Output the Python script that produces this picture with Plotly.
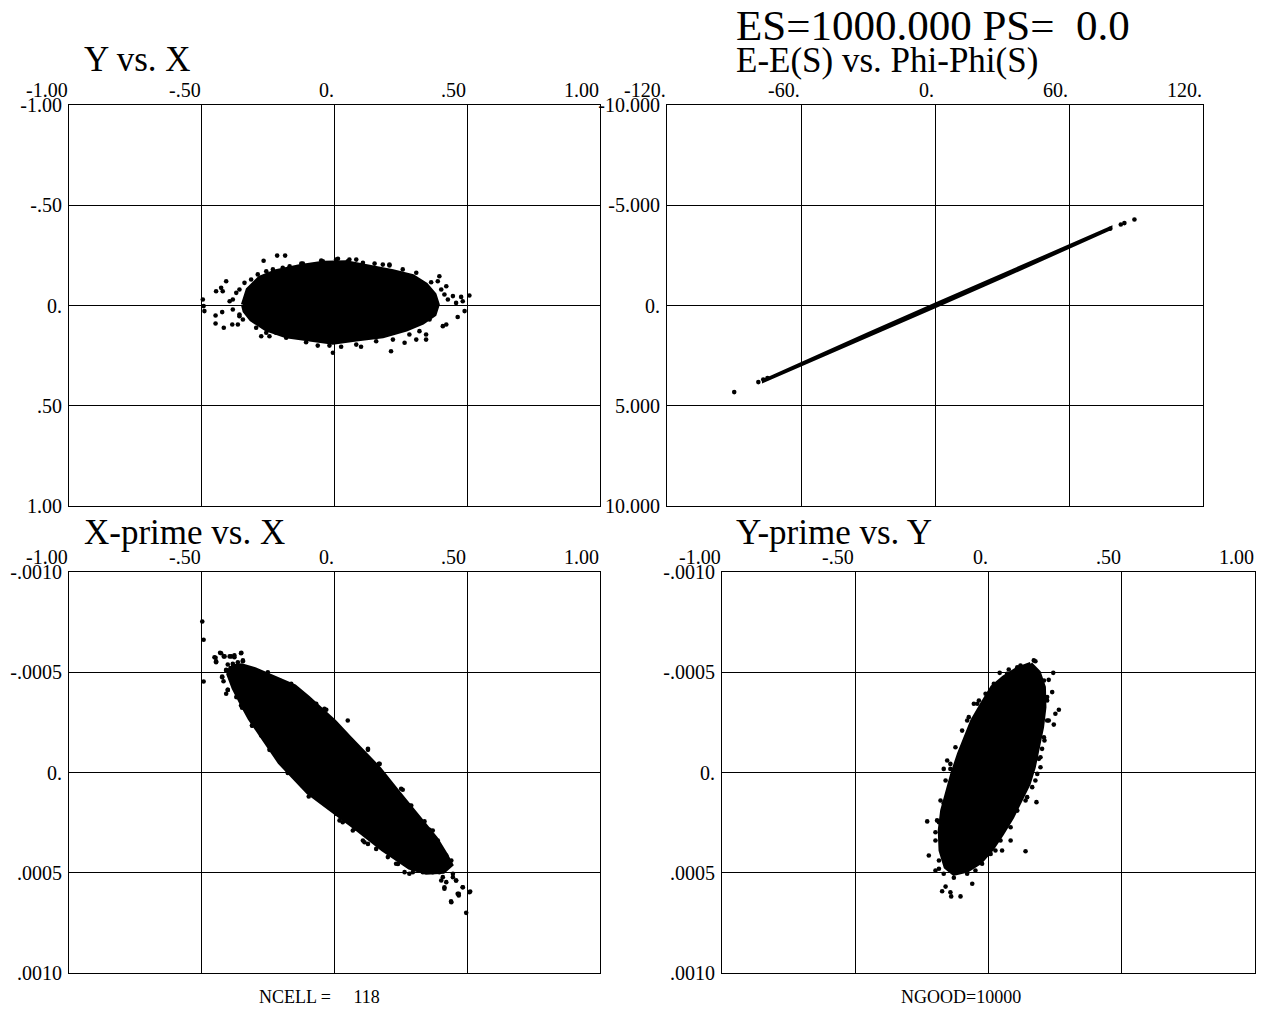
import numpy as np
import plotly.graph_objects as go

W, H = 1278, 1010
FONT = "Liberation Serif"

# ---------------- tick definitions ----------------
XY_TICKS = [-1.0, -0.5, 0.0, 0.5, 1.0]
XY_LABELS = ["-1.00", "-.50", "0.", ".50", "1.00"]
PHI_TICKS = [-120, -60, 0, 60, 120]
PHI_LABELS = ["-120.", "-60.", "0.", "60.", "120."]
E_TICKS = [-10, -5, 0, 5, 10]
E_LABELS = ["-10.000", "-5.000", "0.", "5.000", "10.000"]
XP_TICKS = [-0.001, -0.0005, 0.0, 0.0005, 0.001]
XP_LABELS = ["-.0010", "-.0005", "0.", ".0005", ".0010"]

# ---------------- panel 1: Y vs X ----------------
p1_core_x = [-0.345, -0.327, -0.282, -0.220, -0.132, -0.044, 0.044, 0.132, 0.220, 0.295, 0.345, 0.377,
             0.389, 0.377, 0.332, 0.270, 0.182, 0.082, -0.006, -0.094, -0.182, -0.257, -0.314, -0.339]
p1_core_y = [-0.005, -0.080, -0.138, -0.171, -0.196, -0.213, -0.216, -0.196, -0.171, -0.146, -0.105, -0.055,
             -0.005, 0.045, 0.086, 0.120, 0.153, 0.170, 0.186, 0.170, 0.153, 0.120, 0.070, 0.028]
p1_pts_x = [-0.216, -0.186, -0.267, -0.496, -0.493, -0.490, -0.446, -0.427, -0.408, -0.421, -0.448, -0.448,
            -0.417, -0.423, -0.385, -0.364, -0.276, -0.245, -0.220, -0.063, -0.006, 0.025, 0.100, 0.213,
            0.264, 0.308, 0.345, 0.345, 0.408, 0.421, 0.464, 0.490, 0.508, 0.477, 0.446, 0.427, 0.421,
            0.389, 0.395, 0.458, 0.483, 0.182, 0.207, 0.082, 0.056, 0.006, -0.044, -0.119, -0.395, -0.383,
            -0.358,
            -0.125, -0.050, 0.013, 0.050, 0.107, 0.151, 0.207, 0.257, 0.308, 0.364, 0.402, 0.414,
            0.358, 0.320, 0.282, 0.220, 0.157, 0.082, -0.019, -0.107, -0.182, -0.257, -0.295, -0.345, -0.358,
            -0.383, -0.370, -0.358, -0.339, -0.314, -0.289, -0.257, -0.232, -0.195, -0.169]
p1_pts_y = [-0.249, -0.249, -0.223, -0.030, 0.003, 0.028, -0.071, -0.088, -0.121, -0.071, 0.050, 0.090,
            0.111, 0.033, 0.095, 0.095, 0.153, 0.153, 0.136, 0.200, 0.236, 0.206, 0.206, 0.228,
            0.186, 0.170, 0.145, 0.170, 0.103, 0.095, 0.057, 0.028, -0.050, -0.043, -0.047, -0.030, -0.096,
            -0.121, -0.146, -0.013, -0.021, -0.204, -0.204, -0.229, -0.229, -0.229, -0.221, -0.209, -0.021, 0.020,
            0.045,
            -0.209, -0.224, -0.233, -0.221, -0.213, -0.209, -0.200, -0.180, -0.163, -0.116, -0.080, -0.055,
            0.070, 0.128, 0.145, 0.170, 0.178, 0.195, 0.200, 0.183, 0.161, 0.136, 0.111, 0.070, 0.053,
            -0.030, -0.063, -0.080, -0.113, -0.130, -0.155, -0.171, -0.180, -0.188, -0.196]

# ---------------- panel 2: E-E(S) vs Phi-Phi(S) ----------------
p2_band_x = [-77, -60, -30, 0, 30, 60, 79, 79, 60, 30, 0, -30, -60, -77]
p2_band_y = [3.72, 2.86, 1.38, -0.09, -1.55, -3.02, -3.92, -3.82, -2.86, -1.38, 0.09, 1.55, 3.02, 3.82]
p2_pts_x = [-89.9, -79.1, -76.9, -75.0, 78.4, 83.2, 84.8, 89.3]
p2_pts_y = [4.32, 3.82, 3.69, 3.62, -3.83, -4.04, -4.11, -4.29]

# ---------------- panel 3: X-prime vs X (x' in units of 1e-4) ----------------
p3_core_x = [-0.390, -0.350, -0.300, -0.250, -0.200, -0.150, -0.100, -0.050, 0.000, 0.056, 0.120, 0.169,
             0.232, 0.295, 0.383, 0.420, 0.440, 0.410, 0.345, 0.282, 0.182, 0.082, -0.019, -0.100,
             -0.207, -0.270, -0.320, -0.345, -0.380, -0.400]
p3_core_y = [-5.30, -5.35, -5.15, -4.85, -4.60, -4.30, -3.75, -3.15, -2.55, -1.75, -0.90, -0.20,
             0.85, 1.85, 3.30, 4.10, 4.60, 4.95, 5.00, 4.75, 3.85, 2.80, 1.80, 1.00,
             -0.50, -1.70, -2.70, -3.30, -4.20, -4.90]
p3_pts_x = [-0.498, -0.493, -0.493, -0.448, -0.446, -0.431, -0.417, -0.395, -0.377, -0.351, -0.345, -0.408,
            -0.423, -0.418, -0.402, -0.408, -0.383, -0.348, -0.310, -0.276, -0.242, -0.176, -0.097, -0.038,
            0.050, 0.126, 0.167, 0.251, 0.282, 0.333, 0.370, 0.389, 0.408, 0.427, 0.446, 0.458, 0.483,
            0.511, 0.496, 0.468, 0.468, 0.439, 0.414, 0.402, 0.295, 0.282, 0.232, 0.201, 0.113, 0.069,
            0.019, 0.006,
            -0.452, -0.446, -0.427, -0.414, -0.389, -0.377, -0.352, -0.402, -0.383, -0.364, -0.345, -0.408,
            -0.423, -0.402, -0.370, -0.352, -0.307, -0.311, -0.245, -0.214, -0.176, -0.031, -0.069,
            -0.132, -0.163, -0.207, -0.251,
            0.126, 0.170, 0.257, 0.289, 0.339, 0.358, 0.421, 0.440, 0.408, 0.421, 0.414, 0.446, 0.458,
            0.464, 0.483, 0.508, 0.440, 0.031, 0.075, 0.107, 0.126, 0.157, 0.239, 0.264, 0.333, 0.370, 0.395]
p3_pts_y = [-7.53, -6.62, -4.54, -5.72, -5.55, -5.97, -5.79, -5.79, -5.75, -5.97, -5.55, -5.09,
            -4.75, -4.55, -4.12, -3.93, -4.50, -3.23, -2.34, -1.85, -1.15, 0.02, 1.20, -3.18,
            -2.59, -1.13, -0.43, 0.81, 1.65, 2.48, 2.89, 3.39, 3.97, 4.39, 5.05, 5.39, 5.72,
            5.94, 7.00, 6.05, 6.13, 6.43, 5.72, 5.39, 4.97, 5.05, 4.55, 4.22, 3.48, 2.89,
            2.39, 2.06,
            -5.75, -5.50, -5.95, -5.79, -5.79, -5.84, -5.95, -5.39, -5.42, -5.50, -5.59, -5.12,
            -4.79, -4.12, -3.76, -3.34, -2.84, -2.34, -1.13, -0.85, -0.02, -3.13, -3.43,
            -3.93, -4.42, -4.59, -5.00,
            -1.18, -0.43, 0.86, 1.65, 2.44, 2.86, 4.14, 4.39, 5.22, 5.47, 5.80, 5.22, 5.39,
            6.05, 5.72, 5.97, 6.47, 2.48, 2.81, 3.39, 3.56, 3.81, 4.56, 4.97, 4.97, 4.97, 4.97]

# ---------------- panel 4: Y-prime vs Y (y' in units of 1e-4) ----------------
p4_core_x = [0.158, 0.189, 0.208, 0.210, 0.201, 0.185, 0.170, 0.151, 0.120, 0.089, 0.051, 0.014, -0.030,
             -0.080, -0.130, -0.161, -0.180, -0.183, -0.174, -0.155, -0.136, -0.111, -0.086, -0.061, -0.024,
             0.014, 0.057, 0.108]
p4_core_y = [-5.42, -5.00, -4.26, -3.26, -2.26, -1.26, -0.26, 0.56, 1.40, 2.23, 3.06, 3.81, 4.47,
             4.89, 5.05, 4.72, 3.89, 2.89, 1.90, 0.90, 0.07, -0.93, -1.76, -2.59, -3.43,
             -4.26, -4.75, -5.17]
p4_pts_x = [0.170, 0.176, 0.108, 0.076, 0.042, 0.243, 0.226, 0.239, 0.220, 0.264, 0.251, 0.245, 0.226,
            0.208, 0.201, 0.189, 0.195, 0.176, 0.180, 0.145, 0.139, 0.083, 0.051, 0.026, 0.001, -0.049,
            -0.061, -0.105, -0.140, -0.143, -0.174, -0.161, -0.199, -0.186, -0.224, -0.230, -0.199, -0.186,
            -0.168, -0.155, -0.143, -0.168, -0.080, -0.055, -0.036, 0.026, 0.030,
            0.208, 0.220, 0.220, 0.210, 0.195, 0.183, 0.164, 0.139, 0.108, 0.083, 0.045, 0.008, -0.024,
            -0.080, -0.130, -0.168, -0.186, -0.199, -0.193, -0.180, -0.161, -0.143, -0.124, -0.099, -0.074,
            -0.042, -0.011, 0.020, 0.070, 0.120]
p4_pts_y = [-5.59, -5.55, -5.25, -5.14, -4.97, -4.97, -4.62, -4.01, -3.76, -3.13, -2.93, -2.39, -2.59,
            -1.76, -1.18, -0.68, -0.26, 0.40, 1.48, 1.23, 3.93, 3.39, 3.89, 3.89, 4.06, 4.89,
            5.55, 6.18, 6.18, 5.97, 5.92, 5.69, 4.89, 4.80, 4.14, 2.44, 2.98, 2.48,
            1.53, -0.60, -0.18, -0.18, -2.59, -3.43, -3.59, -4.34, -4.09,
            -4.59, -3.59, -2.59, -1.60, -0.76, 0.07, 0.73, 1.40, 1.90, 2.73, 3.39, 4.06, 4.55,
            5.05, 5.25, 5.05, 4.39, 3.39, 2.39, 1.40, 0.40, -0.43, -1.26, -2.09, -2.76,
            -3.43, -3.93, -4.42, -4.92, -5.34]

PRIME_UNIT = 1e-4


# ---------------- layout geometry (pixels) ----------------
def fx(p):
    return p / W


def fy(p):
    return 1 - p / H


fig = go.Figure()

MS = 4.6


def add_panel(cx, cy, px_, py_, xa, ya, edge):
    fig.add_trace(go.Scatter(x=cx + [cx[0]], y=cy + [cy[0]], mode="lines", fill="toself",
                             fillcolor="black", line=dict(color="black", width=edge),
                             xaxis=xa, yaxis=ya, hoverinfo="skip", showlegend=False))
    fig.add_trace(go.Scatter(x=px_, y=py_, mode="markers",
                             marker=dict(color="black", size=MS, line=dict(width=0)),
                             xaxis=xa, yaxis=ya, showlegend=False))


add_panel(p1_core_x, p1_core_y, p1_pts_x, p1_pts_y, "x", "y", 4)
add_panel(p2_band_x, p2_band_y, p2_pts_x, p2_pts_y, "x2", "y2", 2)
add_panel(p3_core_x, list(np.array(p3_core_y) * PRIME_UNIT),
          p3_pts_x, list(np.array(p3_pts_y) * PRIME_UNIT), "x3", "y3", 4)
add_panel(p4_core_x, list(np.array(p4_core_y) * PRIME_UNIT),
          p4_pts_x, list(np.array(p4_pts_y) * PRIME_UNIT), "x4", "y4", 4)

tickfont = dict(family=FONT, size=20, color="black")


def xaxis(dom, rng, ticks, anchor):
    return dict(domain=[fx(dom[0]), fx(dom[1])], range=rng, tickvals=ticks, showticklabels=False,
                showgrid=True, gridcolor="black", gridwidth=1, showline=True, linecolor="black",
                linewidth=1, mirror=True, zeroline=False, ticks="", anchor=anchor, automargin=False)


def yaxis(dom, rng, ticks, labels, anchor):
    return dict(domain=[fy(dom[1]), fy(dom[0])], range=rng, tickvals=ticks, ticktext=labels,
                tickfont=tickfont, showgrid=True, gridcolor="black", gridwidth=1, showline=True,
                linecolor="black", linewidth=1, mirror=True, zeroline=False, ticks="", anchor=anchor,
                ticklabelstandoff=2, automargin=False)


layout = dict(
    template="none",
    width=W, height=H, autosize=False,
    margin=dict(l=0, r=0, t=0, b=0, pad=0, autoexpand=False),
    paper_bgcolor="white", plot_bgcolor="white", showlegend=False,
    xaxis=xaxis((69, 600), [-1, 1], XY_TICKS, "y"),
    yaxis=yaxis((105, 506), [1, -1], XY_TICKS, XY_LABELS, "x"),
    xaxis2=xaxis((667, 1203), [-120, 120], PHI_TICKS, "y2"),
    yaxis2=yaxis((105, 506), [10, -10], E_TICKS, E_LABELS, "x2"),
    xaxis3=xaxis((69, 600), [-1, 1], XY_TICKS, "y3"),
    yaxis3=yaxis((572, 973), [0.001, -0.001], XP_TICKS, XP_LABELS, "x3"),
    xaxis4=xaxis((722, 1255), [-1, 1], XY_TICKS, "y4"),
    yaxis4=yaxis((572, 973), [0.001, -0.001], XP_TICKS, XP_LABELS, "x4"),
)
fig.update_layout(**layout)

annotations = []
# x tick labels above each panel, right-aligned at the tick position
for xa, ya, ticks, labels in [("x", "y", XY_TICKS, XY_LABELS), ("x2", "y2", PHI_TICKS, PHI_LABELS),
                              ("x3", "y3", XY_TICKS, XY_LABELS), ("x4", "y4", XY_TICKS, XY_LABELS)]:
    for v, t in zip(ticks, labels):
        annotations.append(dict(x=v, xref=xa, y=1, yref=ya + " domain", xanchor="right", yanchor="bottom",
                                text=t, showarrow=False, font=tickfont, borderpad=0, yshift=3))

titles = [
    ("ES=1000.000 PS=\u00a0\u00a00.0", 735, 25, 43),
    ("E-E(S) vs. Phi-Phi(S)", 735, 60, 35),
    ("Y vs. X", 83, 59, 35),
    ("X-prime vs. X", 83, 532, 35),
    ("Y-prime vs. Y", 735, 532, 35),
    ("NCELL =\u00a0\u00a0\u00a0\u00a0 118", 258, 997, 18),
    ("NGOOD=10000", 900, 997, 18),
]
for text, x0, y0, size in titles:
    annotations.append(dict(x=fx(x0), y=fy(y0), xref="paper", yref="paper", xanchor="left", yanchor="middle",
                            text=text, showarrow=False, font=dict(family=FONT, size=size, color="black"),
                            borderpad=0))

fig.update_layout(annotations=annotations)
fig.write_html(
    "out.html",
    config={"displayModeBar": False, "staticPlot": True},
    post_script=(
        "document.documentElement.style.overflow='hidden';"
        "document.body.style.margin='0px';document.body.style.padding='0px';"
        "document.body.style.overflow='hidden';"
        "var gd=document.getElementById('{plot_id}');"
        "gd.style.position='fixed';gd.style.top='0px';gd.style.left='0px';"
    ),
)
